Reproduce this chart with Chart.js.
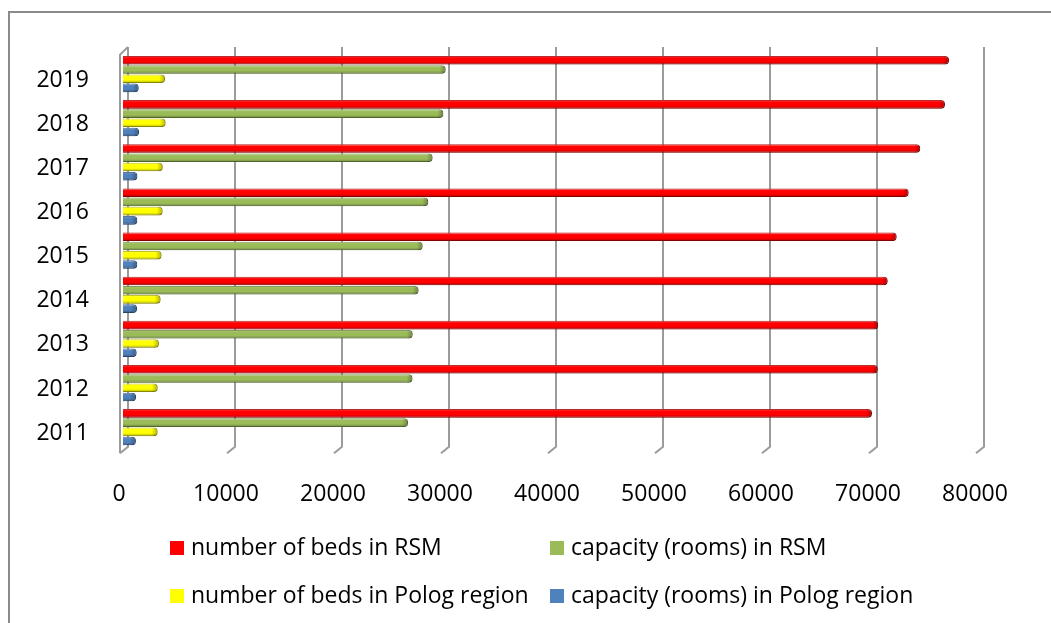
<!DOCTYPE html>
<html>
<head>
<meta charset="utf-8">
<title>Accommodation capacity: RSM and Polog region</title>
<script src="https://cdn.jsdelivr.net/npm/chart.js@4.4.1/dist/chart.umd.min.js"></script>
<style>
  html, body { margin: 0; padding: 0; background: #fff; overflow: hidden; }
  canvas { display: block; }
</style>
</head>
<body>
<canvas id="chart" width="1051" height="623"></canvas>
<script>
// Years on the category axis (2019 is drawn at the top)
const years = ['2011', '2012', '2013', '2014', '2015', '2016', '2017', '2018', '2019'];

// Series values per year
const bedsRSM    = [70000, 70540, 70580, 71470, 72310, 73430, 74510, 76820, 77200];
const roomsRSM   = [26640, 27060, 27080, 27630, 28010, 28530, 28940, 29940, 30160];
const bedsPolog  = [3240, 3250, 3360, 3520, 3610, 3710, 3720, 3990, 3930];
const roomsPolog = [1210, 1220, 1280, 1310, 1340, 1340, 1350, 1500, 1470];

const seriesLabels = [
  'number of beds in RSM',
  'capacity (rooms) in RSM',
  'number of beds in Polog region',
  'capacity (rooms) in Polog region'
];

// Value-axis tick labels
const xTickLabels = ['0', '10000', '20000', '30000', '40000', '50000', '60000', '70000', '80000'];

const FONT_FAMILY = "'Open Sans', 'Liberation Sans', sans-serif";
const FONT_SIZE = 23;
const fills = ['#FF0000', '#9BBB59', '#FFFF00', '#4F81BD'];
const edges = ['#B00000', '#6B8638', '#B5B500', '#335A8A'];
const GRID = '#9B9B9B';

// Outer frame of the chart object
const framePlugin = {
  id: 'frame',
  beforeDraw(chart) {
    const ctx = chart.ctx;
    ctx.save();
    ctx.fillStyle = '#fff';
    ctx.fillRect(0, 0, chart.width, chart.height);
    ctx.strokeStyle = '#8A8A8A';
    ctx.lineWidth = 2;
    ctx.beginPath();
    ctx.moveTo(9, chart.height + 2);
    ctx.lineTo(9, 12);
    ctx.lineTo(chart.width + 2, 12);
    ctx.stroke();
    ctx.restore();
  }
};

// Back-wall gridlines with their perspective feet, plus the left side wall
const wallPlugin = {
  id: 'wall',
  beforeDatasetsDraw(chart) {
    const ctx = chart.ctx;
    const xs = chart.scales.x;
    const area = chart.chartArea;
    const backDx = 5, topY = area.top - 5, backBottom = area.bottom - 2.6;
    const footDx = -8, footDy = 6.6;
    ctx.save();
    ctx.strokeStyle = GRID;
    ctx.lineWidth = 2;
    ctx.lineCap = 'butt';
    for (let v = xs.min; v <= xs.max; v += 10000) {
      const px = Math.round(xs.getPixelForValue(v) + backDx);
      ctx.beginPath();
      ctx.moveTo(px, topY);
      ctx.lineTo(px, backBottom);
      ctx.lineTo(px + footDx, backBottom + footDy);
      ctx.stroke();
    }
    // side wall front edge and top edge
    const back0 = Math.round(xs.getPixelForValue(0) + backDx);
    const front0 = back0 + footDx;
    ctx.beginPath();
    ctx.moveTo(back0, topY);
    ctx.lineTo(front0, topY + footDy + 1);
    ctx.lineTo(front0, backBottom + footDy);
    ctx.stroke();
    ctx.restore();
  }
};

// Cylinder-like shading over each bar
const shadePlugin = {
  id: 'shade',
  afterDatasetsDraw(chart) {
    const ctx = chart.ctx;
    chart.data.datasets.forEach((ds, di) => {
      const meta = chart.getDatasetMeta(di);
      meta.data.forEach(el => {
        const p = el.getProps(['x', 'y', 'base', 'height'], true);
        const left = Math.min(p.base, p.x), right = Math.max(p.base, p.x);
        const top = p.y - p.height / 2, h = p.height;
        const w = right - left;
        if (w <= 0) return;
        ctx.save();
        ctx.beginPath();
        ctx.roundRect(left, top, w, h, [0, 4, 4, 0]);
        ctx.clip();
        const g = ctx.createLinearGradient(0, top, 0, top + h);
        g.addColorStop(0, 'rgba(255,255,255,0.22)');
        g.addColorStop(0.3, 'rgba(255,255,255,0)');
        g.addColorStop(0.65, 'rgba(0,0,0,0)');
        g.addColorStop(1, 'rgba(0,0,0,0.3)');
        ctx.fillStyle = g;
        ctx.fillRect(left, top, w, h);
        const gc = ctx.createLinearGradient(right - 6, 0, right, 0);
        gc.addColorStop(0, 'rgba(0,0,0,0)');
        gc.addColorStop(1, 'rgba(0,0,0,0.3)');
        ctx.fillStyle = gc;
        ctx.fillRect(right - 6, top, 6, h);
        ctx.restore();
      });
    });
  }
};

// Two-column legend below the plot
const legendPlugin = {
  id: 'gridLegend',
  afterDraw(chart) {
    const ctx = chart.ctx;
    const cols = [170, 550];
    const rows = [548, 596];
    ctx.save();
    ctx.font = FONT_SIZE + 'px ' + FONT_FAMILY;
    ctx.textBaseline = 'middle';
    ctx.textAlign = 'left';
    chart.data.datasets.forEach((ds, i) => {
      const x = cols[i % 2];
      const y = rows[Math.floor(i / 2)];
      ctx.fillStyle = ds.backgroundColor;
      ctx.fillRect(x, y - 7, 14, 14);
      ctx.fillStyle = '#000';
      ctx.fillText(ds.label, x + 21, y);
    });
    ctx.restore();
  }
};

const seriesValues = [bedsRSM, roomsRSM, bedsPolog, roomsPolog];

new Chart(document.getElementById('chart'), {
  type: 'bar',
  data: {
    labels: years,
    datasets: seriesValues.map((vals, i) => ({
      label: seriesLabels[i],
      data: vals,
      backgroundColor: fills[i],
      borderColor: edges[i],
      borderWidth: 1,
      borderSkipped: 'start',
      borderRadius: 4,
      barPercentage: 0.93,
      categoryPercentage: 0.836
    }))
  },
  options: {
    indexAxis: 'y',
    responsive: false,
    animation: false,
    devicePixelRatio: 1,
    layout: { padding: { top: 52, left: 0, right: 72, bottom: 0 } },
    plugins: {
      legend: { display: false },
      tooltip: { enabled: false },
      title: { display: false }
    },
    scales: {
      x: {
        type: 'linear',
        min: 0,
        max: 80000,
        grid: { display: false },
        border: { display: false },
        ticks: {
          stepSize: 10000,
          padding: 23,
          labelOffset: -4,
          color: '#000',
          font: { family: FONT_FAMILY, size: FONT_SIZE },
          callback: (v, i) => xTickLabels[i]
        },
        afterFit(scale) { scale.height = 173.7; }
      },
      y: {
        reverse: true,
        grid: { display: false },
        border: { display: false },
        ticks: {
          padding: 26,
          labelOffset: 6,
          color: '#000',
          font: { family: FONT_FAMILY, size: FONT_SIZE }
        },
        afterFit(scale) { scale.width = 123; }
      }
    }
  },
  plugins: [framePlugin, wallPlugin, shadePlugin, legendPlugin]
});
</script>
</body>
</html>
